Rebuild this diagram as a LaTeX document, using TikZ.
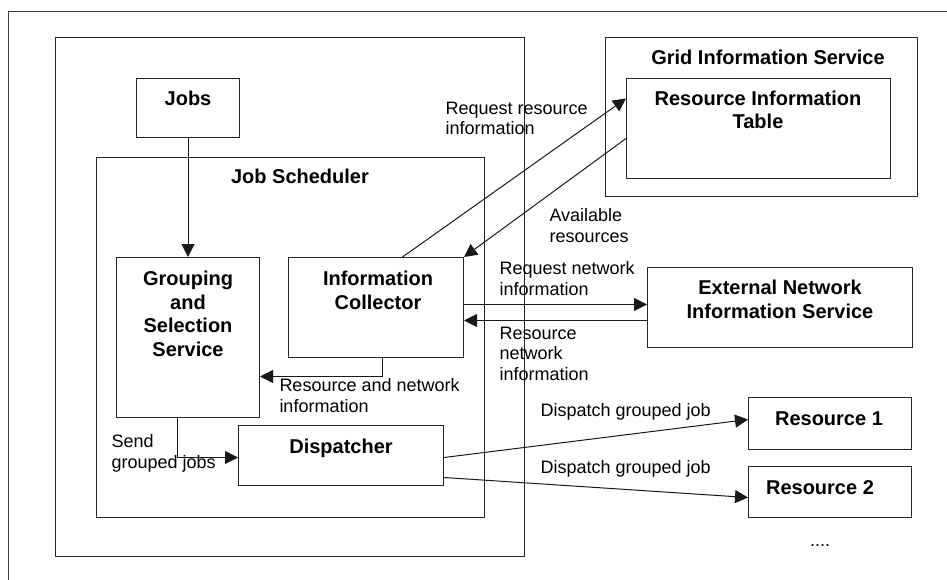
\documentclass[tikz,border=0pt]{standalone}
\usepackage{fontspec}
\setmainfont{Liberation Sans}
\usetikzlibrary{arrows.meta, positioning}

\begin{document}
\begin{tikzpicture}[
      x=1pt, y=-1pt,
      line width=1pt,
      box/.style={
         draw=black!85,
         anchor=north west,
         inner sep=0pt
      },
      title/.style={
         font=\fontsize{20}{23.5}\selectfont\bfseries,
         align=center,
         inner sep=0pt,
         anchor=base
      },
      note/.style={
         font=\fontsize{18}{20.5}\selectfont,
         align=left,
         inner sep=0pt,
         anchor=base west
      },
      arr/.style={
         draw=black!90,
         -{Triangle[length=13pt,width=13pt]}
      }
   ]

      \useasboundingbox (0,0) rectangle (947,580);

      % frame (cut by the page)
      \draw[black!75] (947,12) -- (8,12) -- (8,580);

      % containers
      \node[box, minimum width=469pt, minimum height=519pt] (client) at (55,37) {};
      \node[box, minimum width=388pt, minimum height=360pt] (sched) at (96,157) {};
      \node[box, minimum width=312pt, minimum height=159pt] (gis) at (605,37) {};

      % boxes
      \node[box, minimum width=103pt, minimum height=59pt] (jobs) at (136,78) {};
      \node[box, minimum width=143pt, minimum height=160pt] (grp) at (116,257) {};
      \node[box, minimum width=175pt, minimum height=100pt] (ic) at (288,257) {};
      \node[box, minimum width=205pt, minimum height=60pt] (disp) at (238,425) {};
      \node[box, minimum width=264pt, minimum height=100pt] (rit) at (626,78) {};
      \node[box, minimum width=265pt, minimum height=80pt] (enis) at (647,267) {};
      \node[box, minimum width=163pt, minimum height=52pt] (res1) at (748,397) {};
      \node[box, minimum width=163pt, minimum height=51pt] (res2) at (748,466) {};

      % titles (base = last line)
      \node[title] (jobs-t) at (188,106) {Jobs};
      \node[title] (sched-t) at (300,184) {Job Scheduler};
      \node[title] (grp-t) at (188,356) {Grouping\\and\\Selection\\Service};
      \node[title] (ic-t) at (378,309) {Information\\Collector};
      \node[title] (disp-t) at (341,453) {Dispatcher};
      \node[title] (gis-t) at (768,65) {Grid Information Service};
      \node[title] (rit-t) at (758,129) {Resource Information\\Table};
      \node[title] (enis-t) at (780,318) {External Network\\Information Service};
      \node[title] (res1-t) at (829,425) {Resource 1};
      \node[title] (res2-t) at (820,494) {Resource 2};
      \node[note, anchor=base] (more) at (820,546) {....};

      % connectors
      \draw[arr] (jobs.south) -- (grp.north);
      \draw[arr] ([xshift=26.5pt]ic.north) -- ([yshift=30pt]rit.west);
      \draw[arr] ([yshift=-10pt]rit.west) -- (ic.north east);
      \draw[arr] ([yshift=3pt]ic.east) -- ([yshift=3pt]enis.west);
      \draw[arr] ([yshift=-13pt]enis.west) -- ([yshift=-13pt]ic.east);
      \draw[arr] ([xshift=6.5pt]ic.south) |- ([yshift=-39pt]grp.east);
      \draw[arr] ([xshift=-10.5pt]grp.south) |- ([yshift=-2pt]disp.west);
      \draw[arr] ([yshift=-2pt]disp.east) -- ([yshift=4pt]res1.west);
      \draw[arr] ([yshift=-22pt]disp.east) -- ([yshift=-5.5pt]res2.west);

      % connector labels
      \node[note] (req-res) at (445,135) {Request resource\\information};
      \node[note] (avail) at (549,242) {Available\\resources};
      \node[note] (req-net) at (499,295) {Request network\\information};
      \node[note] (res-net) at (499,380) {Resource\\network\\information};
      \node[note] (res-and-net) at (279,412) {Resource and network\\information};
      \node[note] (send) at (111,468) {Send\\grouped jobs};
      \node[note] (disp1) at (540,416) {Dispatch grouped job};
      \node[note] (disp2) at (540,473) {Dispatch grouped job};
   \end{tikzpicture}
\end{document}
